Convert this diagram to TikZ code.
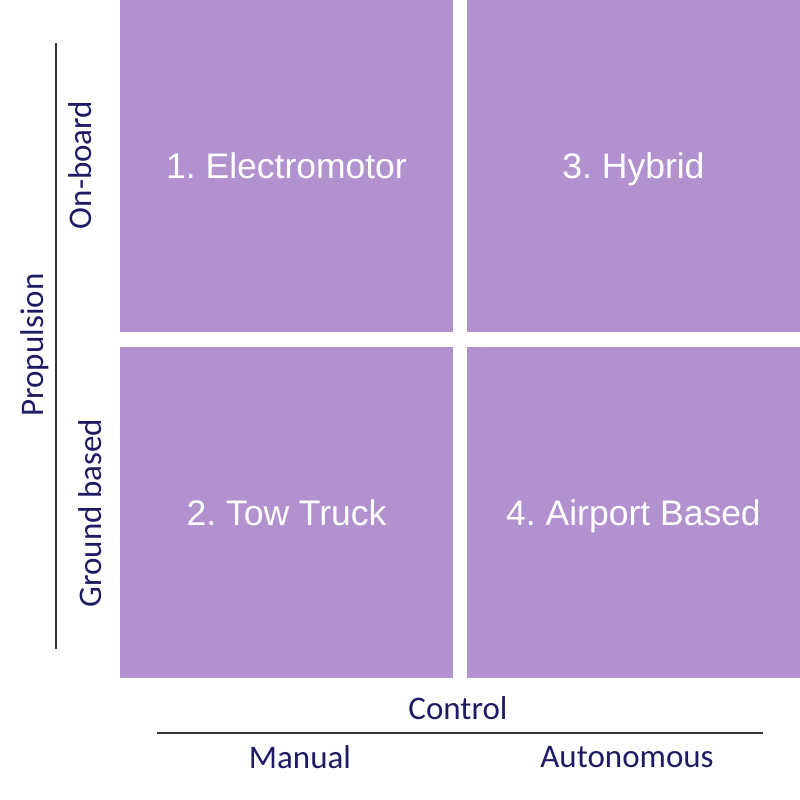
\documentclass[tikz,border=0pt]{standalone}
\usepackage{fontspec}
\setmainfont{Liberation Sans}
\newfontfamily\axisfont{Carlito}
\definecolor{boxpurple}{HTML}{B292CE}
\definecolor{axisnavy}{HTML}{1F1B63}
\definecolor{linegray}{HTML}{333333}
\frenchspacing
\begin{document}
\begin{tikzpicture}[x=1pt,y=-1pt,
  quad/.style={fill=boxpurple,draw=none,minimum width=333pt,minimum height=331.5pt,inner sep=0pt,text height=25.5pt,text depth=0pt,text=white,font=\fontsize{35.5}{40}\selectfont},
  axlabel/.style={text=axisnavy,font=\axisfont\fontsize{33}{38}\selectfont,inner sep=0pt},
  axline/.style={draw=linegray,line width=2pt}]
\useasboundingbox (0,0) rectangle (800,800);
\node[quad] (q1) at (286.5,165.75) {1. Electromotor};
\node[quad] (q3) at (633.5,165.75) {3. Hybrid};
\node[quad] (q2) at (286.5,512.25) {2. Tow Truck};
\node[quad] (q4) at (633.5,512.25) {4. Airport Based};
\coordinate (vtop) at (55.5,43);
\coordinate (vbot) at (55.5,649);
\coordinate (hl) at (157,733);
\coordinate (hr) at (763,733);
\draw[axline] (vtop) -- (vbot);
\draw[axline] (hl) -- (hr);
\node[axlabel,rotate=90] (prop) at (35,345) {Propulsion};
\node[axlabel,rotate=90] (onb) at (80,165) {On-board};
\node[axlabel,rotate=90] (gnd) at (90,513) {Ground based};
\node[axlabel] (ctrl) at (458,708) {Control};
\node[axlabel] (man) at (300,757) {Manual};
\node[axlabel] (aut) at (627,757) {Autonomous};
\end{tikzpicture}
\end{document}
